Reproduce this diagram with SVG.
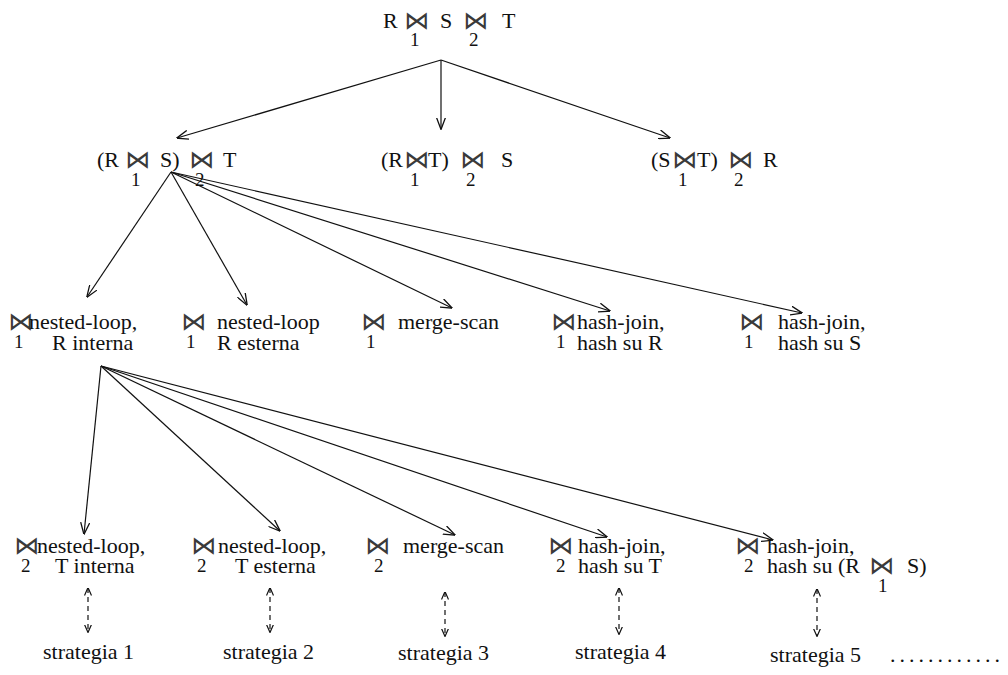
<svg xmlns="http://www.w3.org/2000/svg" width="1008" height="675" viewBox="0 0 1008 675">
  <style>
    .t { font-family: "Liberation Serif", "Times New Roman", serif; font-size: 22px; fill: #111; }
    .sub { font-family: "Liberation Serif", "Times New Roman", serif; font-size: 19px; fill: #111; }
    .bt { font-family: "DejaVu Sans", sans-serif; font-size: 25px; fill: #3a3a3a; }
    .edge { stroke: #111; stroke-width: 1.2; fill: none; marker-end: url(#arr); }
    .dash { stroke: #111; stroke-width: 1.2; fill: none; stroke-dasharray: 5 4; marker-start: url(#darrS); marker-end: url(#darr); }
  </style>
  <defs>
    <marker id="arr" viewBox="0 0 12 10" refX="11.5" refY="5" markerWidth="12" markerHeight="10" markerUnits="userSpaceOnUse" orient="auto">
      <path d="M0,0.5 L12,5 L0,9.5" fill="none" stroke="#111" stroke-width="1.3"/>
    </marker>
    <marker id="darr" viewBox="0 0 8 8" refX="7.5" refY="4" markerWidth="8" markerHeight="8" markerUnits="userSpaceOnUse" orient="auto">
      <path d="M0,0.5 L8,4 L0,7.5" fill="none" stroke="#111" stroke-width="1.2"/>
    </marker>
    <marker id="darrS" viewBox="0 0 8 8" refX="0.5" refY="4" markerWidth="8" markerHeight="8" markerUnits="userSpaceOnUse" orient="auto">
      <path d="M8,0.5 L0,4 L8,7.5" fill="none" stroke="#111" stroke-width="1.2"/>
    </marker>
  </defs>

  <rect width="1008" height="675" fill="#fff"/>

  <!-- root expression -->
  <g id="root">
    <text class="t" x="383" y="28">R</text>
    <text class="bt" x="404" y="29">⋈</text>
    <text class="sub" x="410" y="46">1</text>
    <text class="t" x="440" y="28">S</text>
    <text class="bt" x="463" y="29">⋈</text>
    <text class="sub" x="469" y="46">2</text>
    <text class="t" x="502" y="28">T</text>
  </g>

  <!-- join orders -->
  <g id="order-rs-t">
    <text class="t" x="97" y="167">(R</text>
    <text class="bt" x="125" y="168">⋈</text>
    <text class="sub" x="131" y="186">1</text>
    <text class="t" x="160" y="167">S)</text>
    <text class="bt" x="189" y="168">⋈</text>
    <text class="sub" x="195" y="186">2</text>
    <text class="t" x="223" y="167">T</text>
  </g>
  <g id="order-rt-s">
    <text class="t" x="381" y="167">(R</text>
    <text class="bt" x="404" y="168">⋈</text>
    <text class="sub" x="410" y="186">1</text>
    <text class="t" x="428" y="167">T)</text>
    <text class="bt" x="460" y="168">⋈</text>
    <text class="sub" x="466" y="186">2</text>
    <text class="t" x="501" y="167">S</text>
  </g>
  <g id="order-st-r">
    <text class="t" x="651" y="167">(S</text>
    <text class="bt" x="672" y="168">⋈</text>
    <text class="sub" x="678" y="186">1</text>
    <text class="t" x="697" y="167">T)</text>
    <text class="bt" x="728" y="168">⋈</text>
    <text class="sub" x="734" y="186">2</text>
    <text class="t" x="763" y="167">R</text>
  </g>

  <!-- methods for join 1 -->
  <g id="j1-nl-int">
    <text class="bt" x="8" y="330">⋈</text>
    <text class="sub" x="14" y="348">1</text>
    <text class="t" x="29" y="329">nested-loop,</text>
    <text class="t" x="52" y="350">R interna</text>
  </g>
  <g id="j1-nl-est">
    <text class="bt" x="181" y="330">⋈</text>
    <text class="sub" x="186" y="348">1</text>
    <text class="t" x="217" y="329">nested-loop</text>
    <text class="t" x="217" y="350">R esterna</text>
  </g>
  <g id="j1-ms">
    <text class="bt" x="361" y="330">⋈</text>
    <text class="sub" x="366" y="348">1</text>
    <text class="t" x="398" y="329">merge-scan</text>
  </g>
  <g id="j1-hash-r">
    <text class="bt" x="551" y="330">⋈</text>
    <text class="sub" x="556" y="348">1</text>
    <text class="t" x="577" y="329">hash-join,</text>
    <text class="t" x="577" y="350">hash su R</text>
  </g>
  <g id="j1-hash-s">
    <text class="bt" x="739" y="330">⋈</text>
    <text class="sub" x="744" y="348">1</text>
    <text class="t" x="778" y="329">hash-join,</text>
    <text class="t" x="778" y="350">hash su S</text>
  </g>

  <!-- methods for join 2 -->
  <g id="j2-nl-int">
    <text class="bt" x="14" y="554">⋈</text>
    <text class="sub" x="21" y="572">2</text>
    <text class="t" x="37" y="553">nested-loop,</text>
    <text class="t" x="55" y="573">T interna</text>
  </g>
  <g id="j2-nl-est">
    <text class="bt" x="191" y="554">⋈</text>
    <text class="sub" x="197" y="572">2</text>
    <text class="t" x="218" y="553">nested-loop,</text>
    <text class="t" x="235" y="573">T esterna</text>
  </g>
  <g id="j2-ms">
    <text class="bt" x="365" y="554">⋈</text>
    <text class="sub" x="374" y="572">2</text>
    <text class="t" x="403" y="553">merge-scan</text>
  </g>
  <g id="j2-hash-t">
    <text class="bt" x="548" y="554">⋈</text>
    <text class="sub" x="556" y="572">2</text>
    <text class="t" x="578" y="553">hash-join,</text>
    <text class="t" x="578" y="573">hash su T</text>
  </g>
  <g id="j2-hash-rs">
    <text class="bt" x="735" y="554">⋈</text>
    <text class="sub" x="744" y="572">2</text>
    <text class="t" x="767" y="553">hash-join,</text>
    <text class="t" x="767" y="573">hash su (R</text>
    <text class="bt" x="869" y="574">⋈</text>
    <text class="sub" x="878" y="592">1</text>
    <text class="t" x="907" y="573">S)</text>
  </g>

  <!-- strategies -->
  <g id="strategia-1"><text class="t" x="43" y="659">strategia 1</text></g>
  <g id="strategia-2"><text class="t" x="223" y="659">strategia 2</text></g>
  <g id="strategia-3"><text class="t" x="398" y="660">strategia 3</text></g>
  <g id="strategia-4"><text class="t" x="575" y="659">strategia 4</text></g>
  <g id="strategia-5"><text class="t" x="770" y="662">strategia 5</text></g>
  <g id="more"><text class="t" x="890" y="662" letter-spacing="4">............</text></g>

  <g id="connectors">
    <!-- root to join orders -->
    <line class="edge" x1="441" y1="60" x2="177" y2="138"/>
    <line class="edge" x1="441" y1="60" x2="441" y2="129"/>
    <line class="edge" x1="441" y1="60" x2="670" y2="138"/>
    <!-- (R join S) join T to methods of join 1 -->
    <line class="edge" x1="171" y1="172" x2="87" y2="297"/>
    <line class="edge" x1="171" y1="172" x2="247" y2="305"/>
    <line class="edge" x1="171" y1="172" x2="452" y2="308"/>
    <line class="edge" x1="171" y1="172" x2="610" y2="311"/>
    <line class="edge" x1="171" y1="172" x2="802" y2="313"/>
    <!-- nested-loop R interna to methods of join 2 -->
    <line class="edge" x1="101" y1="366" x2="84" y2="534"/>
    <line class="edge" x1="101" y1="366" x2="280" y2="531"/>
    <line class="edge" x1="101" y1="366" x2="455" y2="535"/>
    <line class="edge" x1="101" y1="366" x2="607" y2="537"/>
    <line class="edge" x1="101" y1="366" x2="773" y2="540"/>
    <!-- method pairs to strategies -->
    <line class="dash" x1="88" y1="588" x2="88" y2="632"/>
    <line class="dash" x1="270" y1="588" x2="270" y2="632"/>
    <line class="dash" x1="445" y1="592" x2="445" y2="636"/>
    <line class="dash" x1="619" y1="588" x2="619" y2="634"/>
    <line class="dash" x1="817" y1="589" x2="817" y2="636"/>
  </g>
</svg>
